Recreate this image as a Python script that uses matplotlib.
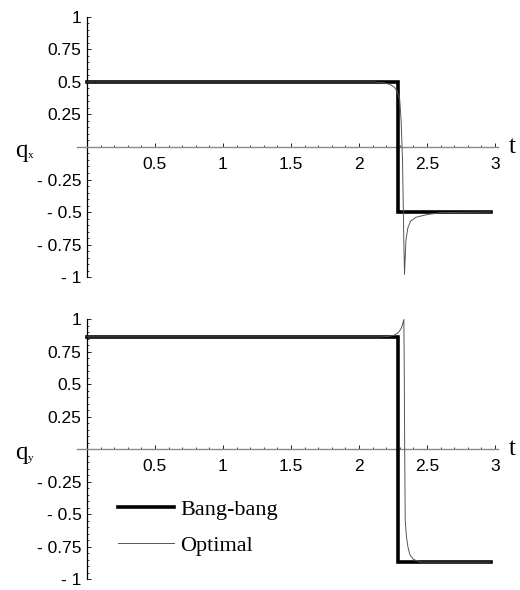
import numpy as np
import matplotlib.pyplot as plt
from matplotlib.ticker import MultipleLocator

# bang-bang control (step at the switching time)
bang_t = [0, 2.29, 2.29, 2.97]
bang_qx = [0.5, 0.5, -0.5, -0.5]
bang_qy = [0.866, 0.866, -0.866, -0.866]

# optimal control
opt_t_x = [0, 2.10, 2.18, 2.23, 2.26, 2.28, 2.30, 2.31, 2.32, 2.325, 2.33, 2.335,
           2.34, 2.345, 2.36, 2.38, 2.42, 2.50, 2.60, 2.97]
opt_qx = [0.5, 0.5, 0.495, 0.48, 0.46, 0.43, 0.36, 0.2, -0.1, -0.4, -0.75, -0.98,
          -0.85, -0.72, -0.62, -0.57, -0.54, -0.52, -0.505, -0.5]
opt_t_y = [0, 2.15, 2.22, 2.26, 2.29, 2.31, 2.32, 2.33, 2.333, 2.336, 2.34, 2.35,
           2.36, 2.375, 2.40, 2.45, 2.97]
opt_qy = [0.866, 0.866, 0.87, 0.88, 0.9, 0.93, 0.96, 1.0, 0.6, 0.0, -0.55, -0.68,
          -0.75, -0.81, -0.845, -0.866, -0.866]

x_ticks = [0.5, 1, 1.5, 2, 2.5, 3]
x_labels = ['0.5', '1', '1.5', '2', '2.5', '3']
y_ticks = [-1, -0.75, -0.5, -0.25, 0.25, 0.5, 0.75, 1]
y_labels = ['- 1', '- 0.75', '- 0.5', '- 0.25', '0.25', '0.5', '0.75', '1']

plt.rcParams['font.family'] = ['Liberation Sans', 'DejaVu Sans']
serif = ['Liberation Serif', 'DejaVu Serif']

fig = plt.figure(figsize=(5.2, 5.9), dpi=100)
ax1 = fig.add_axes([0.1477, 0.5305, 0.8094, 0.4407])
ax2 = fig.add_axes([0.1477, 0.0178, 0.8094, 0.4407])


def style(ax, sub):
    ax.set_xlim(-0.075, 3.02)
    ax.set_ylim(-1.0, 1.0)
    for s in ['top', 'right']:
        ax.spines[s].set_visible(False)
    ax.spines['left'].set_position(('data', 0))
    ax.spines['bottom'].set_position(('data', 0))
    ax.spines['left'].set_linewidth(0.9)
    ax.spines['bottom'].set_linewidth(1.0)
    ax.spines['bottom'].set_color('#8a8a8a')
    ax.set_xticks(x_ticks)
    ax.set_xticklabels(x_labels)
    ax.set_yticks(y_ticks)
    ax.set_yticklabels(y_labels)
    ax.xaxis.set_minor_locator(MultipleLocator(0.1))
    ax.yaxis.set_minor_locator(MultipleLocator(0.05))
    ax.tick_params(which='major', direction='in', length=3, width=0.7,
                   labelsize=12.5, pad=7, color='#222222')
    ax.tick_params(which='minor', direction='in', length=1.5, width=0.6,
                   color='#222222')
    ax.tick_params(axis='y', pad=4)
    ax.text(3.1, 0.0, 't', family=serif, fontsize=18, ha='left', va='center')
    ax.annotate('q', xy=(0, 0), xycoords=('figure pixels', 'data'),
                xytext=(15, -4), textcoords='offset pixels',
                family=serif, fontsize=18, ha='left', va='center')
    ax.annotate(sub, xy=(0, 0), xycoords=('figure pixels', 'data'),
                xytext=(28, -9), textcoords='offset pixels',
                family=serif, fontsize=8, ha='left', va='center')


style(ax1, 'x')
style(ax2, 'y')

ax1.plot(bang_t, bang_qx, color='black', lw=2.6, solid_joinstyle='miter', zorder=3)
ax1.plot(opt_t_x, opt_qx, color='#555555', lw=0.7, zorder=4)

ax2.plot(bang_t, bang_qy, color='black', lw=2.6, solid_joinstyle='miter',
         zorder=3, label='Bang-bang')
ax2.plot(opt_t_y, opt_qy, color='#555555', lw=0.7, zorder=4, label='Optimal')

ax2.legend(loc='center left', bbox_to_anchor=(0.098, 0.20), frameon=False,
           prop={'family': serif, 'size': 16}, handlelength=2.5,
           handletextpad=0.3, labelspacing=0.7, borderpad=0, borderaxespad=0)

fig.savefig('out.png', dpi=100)
